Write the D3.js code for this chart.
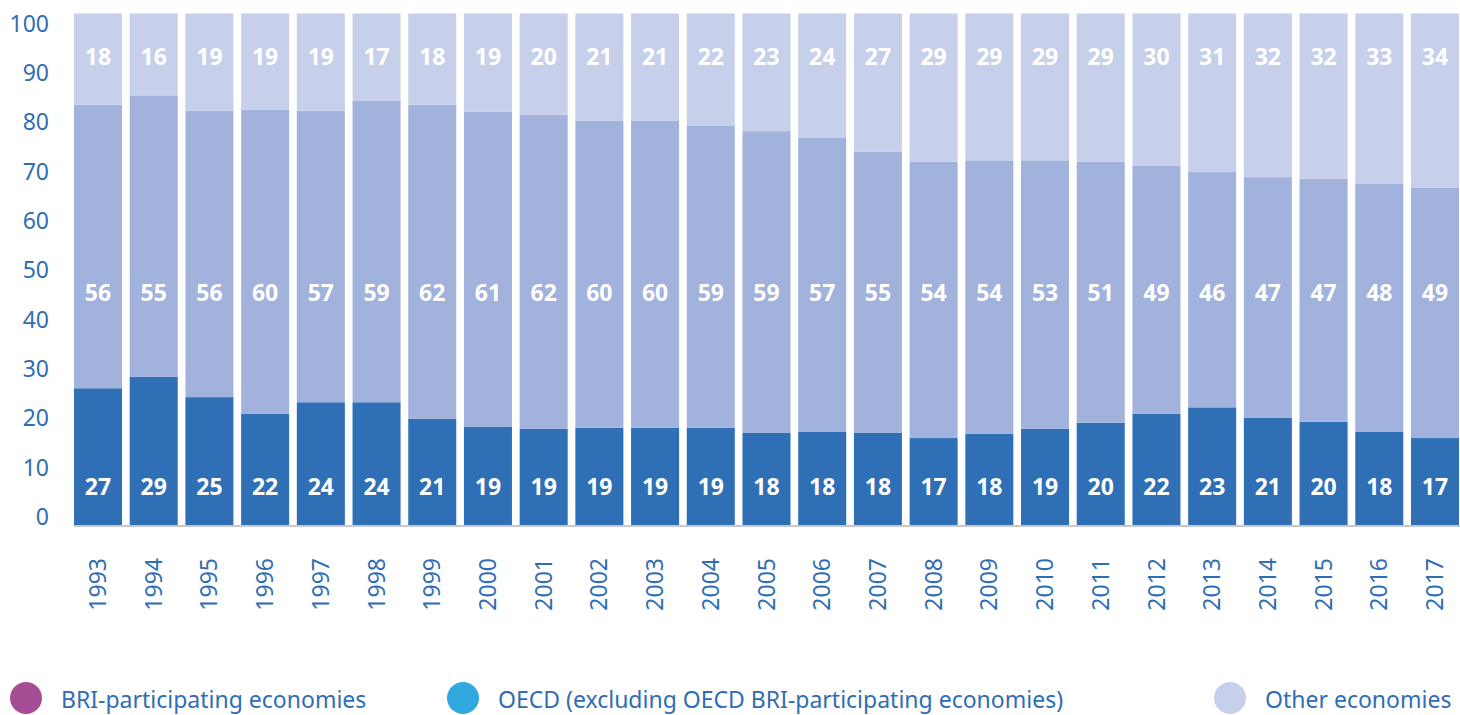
<!DOCTYPE html>
<html>
<head>
<meta charset="utf-8">
<script src="https://cdn.jsdelivr.net/npm/d3@7"></script>
<style>
  body { margin: 0; background: #fff; overflow: hidden; }
  text { font-family: "Noto Sans", "Open Sans", sans-serif; }
</style>
</head>
<body>
<div id="chart"></div>
<script>
const w = 1460,
      h = 715;

const years = ["1993","1994","1995","1996","1997","1998","1999","2000","2001","2002","2003","2004","2005",
               "2006","2007","2008","2009","2010","2011","2012","2013","2014","2015","2016","2017"];

// bottom -> top
const bri   = [27,29,25,22,24,24,21,19,19,19,19,19,18,18,18,17,18,19,20,22,23,21,20,18,17];
const oecd  = [56,55,56,60,57,59,62,61,62,60,60,59,59,57,55,54,54,53,51,49,46,47,47,48,49];
const other = [18,16,19,19,19,17,18,19,20,21,21,22,23,24,27,29,29,29,29,30,31,32,32,33,34];

const yTicks = [0,10,20,30,40,50,60,70,80,90,100];

const seriesKeys = ["bri", "oecd", "other"];
const legendLabels = ["BRI-participating economies",
                      "OECD (excluding OECD BRI-participating economies)",
                      "Other economies"];

const barColors = ["#2f6fb5", "#a1b2dc", "#c7d0eb"];
const legendColors = ["#a64e94", "#31a9e0", "#c7d0eb"];
const labelY = [487, 293, 57];
const blue = "#2f6db4";

const rows = years.map((y, i) => ({year: y, bri: bri[i], oecd: oecd[i], other: other[i]}));

const svg = d3.select("#chart")
  .append("svg")
  .attr("width", w)
  .attr("height", h);

const x = d3.scaleBand()
  .domain(years)
  .range([74, 1459])
  .paddingInner(0.138)
  .paddingOuter(0);

// shares are normalised to 100 per year
const y = d3.scaleLinear()
  .domain([0, 1])
  .range([525, 13.5]);

// tick labels sit slightly inside the bar range in the original
const yLabelScale = d3.scaleLinear()
  .domain([0, 100])
  .range([517, 24]);

const stack = d3.stack()
  .keys(seriesKeys)
  .offset(d3.stackOffsetExpand);

const layers = stack(rows);

svg.selectAll("g.layer")
  .data(layers)
  .enter()
  .append("g")
  .attr("class", "layer")
  .attr("fill", (d, i) => barColors[i])
  .selectAll("rect")
  .data(d => d)
  .enter()
  .append("rect")
  .attr("x", d => x(d.data.year))
  .attr("y", d => y(d[1]))
  .attr("width", x.bandwidth())
  .attr("height", d => y(d[0]) - y(d[1]));

// value labels
layers.forEach((layer, li) => {
  svg.append("g")
    .selectAll("text")
    .data(layer)
    .enter()
    .append("text")
    .attr("x", d => x(d.data.year) + x.bandwidth() / 2)
    .attr("y", labelY[li])
    .attr("dy", "0.35em")
    .attr("text-anchor", "middle")
    .attr("fill", "#fff")
    .style("font-weight", "bold")
    .style("font-size", "23px")
    .text(d => d.data[layer.key]);
});

// baseline
svg.append("line")
  .attr("x1", 74).attr("x2", 1460)
  .attr("y1", 526).attr("y2", 526)
  .attr("stroke", "#c8c8c8")
  .attr("stroke-width", 2);

// y axis labels
const yAxis = d3.axisLeft(yLabelScale)
  .tickValues(yTicks)
  .tickSize(0)
  .tickPadding(0);

const yAxisGroup = svg.append("g")
  .attr("transform", "translate(49, 0)")
  .call(yAxis);
yAxisGroup.select(".domain").remove();
yAxisGroup.selectAll("text")
  .attr("fill", blue)
  .style("font-size", "23px")
  .style("font-family", "'Noto Sans', sans-serif");

// x axis labels (rotated)
const xAxis = d3.axisBottom(x).tickSize(0).tickPadding(0);
const xAxisGroup = svg.append("g")
  .attr("transform", "translate(0, 558)")
  .call(xAxis);
xAxisGroup.select(".domain").remove();
xAxisGroup.selectAll("text")
  .attr("fill", blue)
  .attr("transform", "rotate(-90)")
  .attr("text-anchor", "end")
  .attr("x", 0)
  .attr("y", 0)
  .attr("dy", "0.35em")
  .style("font-size", "23px")
  .style("font-family", "'Noto Sans', sans-serif");

// legend
const legendX = [26, 463, 1230];
const legend = svg.append("g")
  .selectAll("g")
  .data(legendLabels)
  .enter()
  .append("g")
  .attr("transform", (d, i) => "translate(" + legendX[i] + ", 698)");

legend.append("circle")
  .attr("r", 16)
  .attr("fill", (d, i) => legendColors[i]);

legend.append("text")
  .attr("x", 35)
  .attr("y", 10)
  .attr("fill", blue)
  .style("font-size", "23px")
  .text(d => d);
</script>
</body>
</html>
